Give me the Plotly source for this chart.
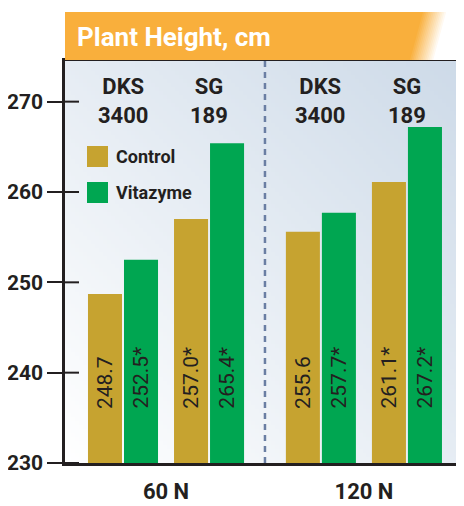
import base64
import struct
import zlib

import plotly.graph_objects as go

# ---------------- data ----------------
nitrogen = ["60 N", "120 N"]
varieties = ["DKS<br>3400", "SG<br>189"]
series_names = ["Control", "Vitazyme"]
# order: 60N-DKS, 60N-SG, 120N-DKS, 120N-SG
control = [248.7, 257.0, 255.6, 261.1]
vitazyme = [252.5, 265.4, 257.7, 267.2]
control_sig = [False, True, False, True]
vitazyme_sig = [True, True, True, True]
y_ticks = [230, 240, 250, 260, 270]
title = "Plant Height, cm"

# ---------------- style ----------------
OFF = 8  # page body margin of the browser
W, H = 464 - OFF, 506 - OFF
ML, MR, MT, MB = 65 - OFF, 0, 61 - OFF, 43
PW, PH = W - ML - MR, H - MT - MB
FONT = "Roboto, Liberation Sans, sans-serif"
DARK = "#231f20"
GOLD = "#c6a330"
GREEN = "#00a651"
ORANGE = (249, 175, 60)
GROUP_STEP = 2.3
BARGAP = 0.163
YMIN, YMAX = 230, 274.5
LABEL_Y = 235.8


def px_x(px):
    return (px - OFF - ML) / PW


def px_y(py):
    return 1 - (py - OFF - MT) / PH


def png_uri(w, h, fn):
    rows = []
    for yy in range(h):
        row = bytearray([0])
        for xx in range(w):
            row.extend(fn(xx, yy))
        rows.append(bytes(row))
    raw = b"".join(rows)

    def chunk(tag, data):
        return (struct.pack(">I", len(data)) + tag + data
                + struct.pack(">I", zlib.crc32(tag + data) & 0xFFFFFFFF))

    png = (b"\x89PNG\r\n\x1a\n"
           + chunk(b"IHDR", struct.pack(">IIBBBBB", w, h, 8, 2, 0, 0, 0))
           + chunk(b"IDAT", zlib.compress(raw))
           + chunk(b"IEND", b""))
    return "data:image/png;base64," + base64.b64encode(png).decode()


def bg_pixel(xx, yy, n=100):
    u = xx / (n - 1)
    v = 1 - yy / (n - 1)
    t = (u + v) / 2
    c0, c1 = (255, 255, 255), (205, 218, 232)
    return [int(round(a + (b - a) * t)) for a, b in zip(c0, c1)]


positions = []
for ni in range(len(nitrogen)):
    for vi in range(len(varieties)):
        positions.append(ni * GROUP_STEP + vi)

fig = go.Figure()
fig.add_trace(go.Bar(x=positions, y=control, name=series_names[0],
                     marker=dict(color=GOLD, line=dict(width=0)), showlegend=False))
fig.add_trace(go.Bar(x=positions, y=vitazyme, name=series_names[1],
                     marker=dict(color=GREEN, line=dict(width=0)), showlegend=False))

annotations = []
shapes = []

# value labels (rotated)
slot = (1 - BARGAP) / 2
for si, (vals, sig) in enumerate([(control, control_sig), (vitazyme, vitazyme_sig)]):
    off = (si - 0.5) * slot
    for p, v, s in zip(positions, vals, sig):
        annotations.append(dict(
            x=p + off, y=LABEL_Y, xref="x", yref="y",
            text=f"{v:.1f}" + ("*" if s else ""), showarrow=False,
            textangle=-90, xanchor="center", yanchor="bottom",
            font=dict(family=FONT, size=21, color=DARK)))

# variety labels at the top
for p, vi in zip(positions, [0, 1] * len(nitrogen)):
    annotations.append(dict(
        x=p, y=px_y(72), xref="x", yref="paper", text=f"<b>{varieties[vi]}</b>",
        showarrow=False, xanchor="center", yanchor="top",
        font=dict(family=FONT, size=22, color=DARK)))

# divider between nitrogen groups
mid = (positions[1] + positions[2]) / 2
shapes.append(dict(type="line", xref="x", yref="y domain", x0=mid, x1=mid, y0=0, y1=1,
                   line=dict(color="#6a7ea3", width=2.5, dash="6px,5px")))

# inside part of y ticks
for t in y_ticks:
    shapes.append(dict(type="line", xref="x domain", yref="y", x0=0, x1=14 / PW,
                       y0=t, y1=t, line=dict(color=DARK, width=2)))

# custom legend
for i, (nm, col) in enumerate(zip(series_names, [GOLD, GREEN])):
    top = 146 + i * 36
    shapes.append(dict(type="rect", xref="paper", yref="paper",
                       x0=px_x(87), x1=px_x(108), y0=px_y(top + 21), y1=px_y(top),
                       fillcolor=col, line=dict(width=0)))
    annotations.append(dict(x=px_x(114), y=px_y(top + 10.5), xref="paper", yref="paper",
                            text=f"<b>{nm}</b>", showarrow=False, xanchor="left",
                            yanchor="middle", font=dict(family=FONT, size=18, color=DARK)))

# title banner with fade on the right
b_top, b_bot = px_y(12), px_y(60)
shapes.append(dict(type="rect", xref="paper", yref="paper", x0=0, x1=1.02,
                   y0=b_bot, y1=b_top, fillcolor="rgb(%d,%d,%d)" % ORANGE,
                   line=dict(width=0), layer="above"))
steps = 14
fx0, fx1, slant = px_x(423), px_x(448), 13 / PW
for k in range(1, steps + 1):
    f = k / steps
    col = tuple(int(round(o + (255 - o) * f)) for o in ORANGE)
    xa = fx0 + (fx1 - fx0) * (k - 1) / steps
    path = (f"M {xa},{b_top} L 1.05,{b_top} L 1.05,{b_bot} L {xa - slant},{b_bot} Z")
    shapes.append(dict(type="path", xref="paper", yref="paper", path=path,
                       fillcolor="rgb(%d,%d,%d)" % col, line=dict(width=0), layer="above"))
annotations.append(dict(x=px_x(75), y=px_y(37), xref="paper", yref="paper",
                        text=f"<b>{title}</b>", showarrow=False, xanchor="left",
                        yanchor="middle", font=dict(family=FONT, size=26, color="white")))

fig.update_layout(
    width=W, height=H,
    margin=dict(l=ML, r=MR, t=MT, b=MB, pad=0),
    paper_bgcolor="white", plot_bgcolor="white",
    barmode="group", bargap=BARGAP, bargroupgap=0.055,
    showlegend=False,
    annotations=annotations, shapes=shapes,
    images=[dict(source=png_uri(100, 100, bg_pixel), xref="paper", yref="paper",
                 x=0, y=1, sizex=1, sizey=1, sizing="stretch", layer="below",
                 xanchor="left", yanchor="top")],
    xaxis=dict(range=[-0.674, positions[-1] + 0.663], showgrid=False, zeroline=False,
               automargin=False,
               tickmode="array",
               tickvals=[ni * GROUP_STEP + (len(varieties) - 1) / 2 for ni in range(len(nitrogen))],
               ticktext=[f"<b>{n}</b>" for n in nitrogen], ticks="",
               ticklabelstandoff=7,
               tickfont=dict(family=FONT, size=22, color=DARK),
               showline=True, linecolor=DARK, linewidth=2.5, mirror=True),
    yaxis=dict(range=[YMIN, YMAX], showgrid=False, zeroline=False,
               automargin=False,
               tickmode="array", tickvals=y_ticks,
               ticktext=[f"<b>{t}</b>" for t in y_ticks],
               ticks="outside", ticklen=15, tickwidth=2, tickcolor=DARK,
               tickfont=dict(family=FONT, size=21, color=DARK),
               showline=True, linecolor=DARK, linewidth=2.5),
)

fig.write_html("out.html")
